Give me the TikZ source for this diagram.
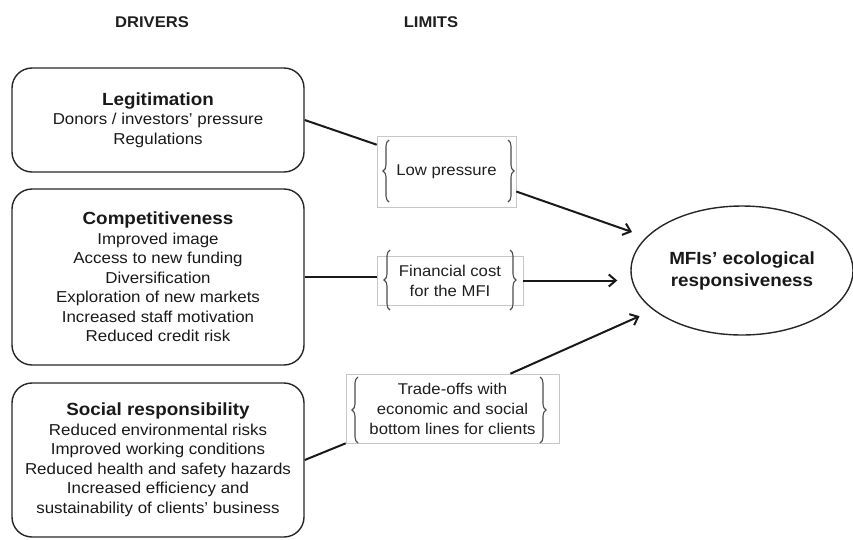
\documentclass[tikz,border=0pt]{standalone}
\usepackage{fontspec}
\setmainfont{Liberation Sans}[FakeStretch=1.07]
\usetikzlibrary{shapes.geometric,arrows.meta,decorations.pathreplacing,calc}
\begin{document}
\begin{tikzpicture}[x=1pt,y=-1pt,
  driver/.style={draw=black!85, line width=1.4pt, rounded corners=20pt, minimum width=292pt,
    inner sep=0pt, align=center, font=\fontsize{15.8}{19.5}\selectfont, text=black!90},
  limitbox/.style={draw=black!22, line width=0.6pt, inner sep=0pt, align=center,
    font=\fontsize{15.6}{20}\selectfont, text=black!88},
  bracestyle/.style={decorate, decoration={brace, amplitude=6pt}, draw=black!70, line width=1.1pt},
  link/.style={line width=2pt, draw=black!90},
  arrow/.style={link, -{Straight Barb[length=7pt,width=12pt]}, shorten >=15pt},
  head/.style={font=\fontsize{15.5}{18}\selectfont\bfseries, text=black!88}]
\useasboundingbox (0,0) rectangle (853,539);

\node[head] (drv) at (152,22) {DRIVERS};
\node[head] (lim) at (431,22) {LIMITS};

\node[driver, minimum height=104pt] (legit) at (158,120)
  {{\fontsize{17.6}{20}\selectfont\bfseries Legitimation}\\
   Donors / investors' pressure\\ Regulations};
\node[driver, minimum height=176pt] (comp) at (158,277)
  {{\fontsize{17.6}{20}\selectfont\bfseries Competitiveness}\\
   Improved image\\ Access to new funding\\ Diversification\\
   Exploration of new markets\\ Increased staff motivation\\ Reduced credit risk};
\node[driver, minimum height=154pt] (social) at (158,460)
  {{\fontsize{17.6}{20}\selectfont\bfseries Social responsibility}\\
   Reduced environmental risks\\ Improved working conditions\\
   Reduced health and safety hazards\\ Increased efficiency and\\
   sustainability of clients' business};

\node[limitbox, minimum width=139pt, minimum height=71pt] (lp) at (446.5,171.5) {Low pressure};
\node[limitbox, minimum width=146pt, minimum height=49pt] (fin) at (450,280.5) {Financial cost\\ for the MFI};
\node[limitbox, minimum width=213pt, minimum height=69pt] (trade) at (452.5,408.5)
  {Trade-offs with\\ economic and social\\ bottom lines for clients};

\draw[bracestyle] (389,202) -- (389,140);
\draw[bracestyle] (508,140) -- (508,202);
\draw[bracestyle] (390,310) -- (390,250);
\draw[bracestyle] (510,250) -- (510,310);
\draw[bracestyle] (358,443) -- (358,377);
\draw[bracestyle] (540,377) -- (540,443);

\node[draw=black!85, line width=1.4pt, ellipse, minimum width=222pt, minimum height=129pt,
  inner sep=0pt, align=center, font=\fontsize{17.6}{22}\selectfont\bfseries, text=black!90]
  (mfi) at (742,270.5) {MFIs' ecological\\ responsiveness};

\draw[link] (legit.east) -- (lp.159);
\draw[arrow] (lp.-16) -- (mfi);
\draw[link] (comp.east) -- (fin.west |- comp.east);
\draw[arrow, shorten >=13pt] (fin.east) -- (mfi.west |- fin.east);
\draw[link] (social.east) -- (trade.south west);
\draw[arrow] (trade.31) -- (mfi);
\end{tikzpicture}
\end{document}
